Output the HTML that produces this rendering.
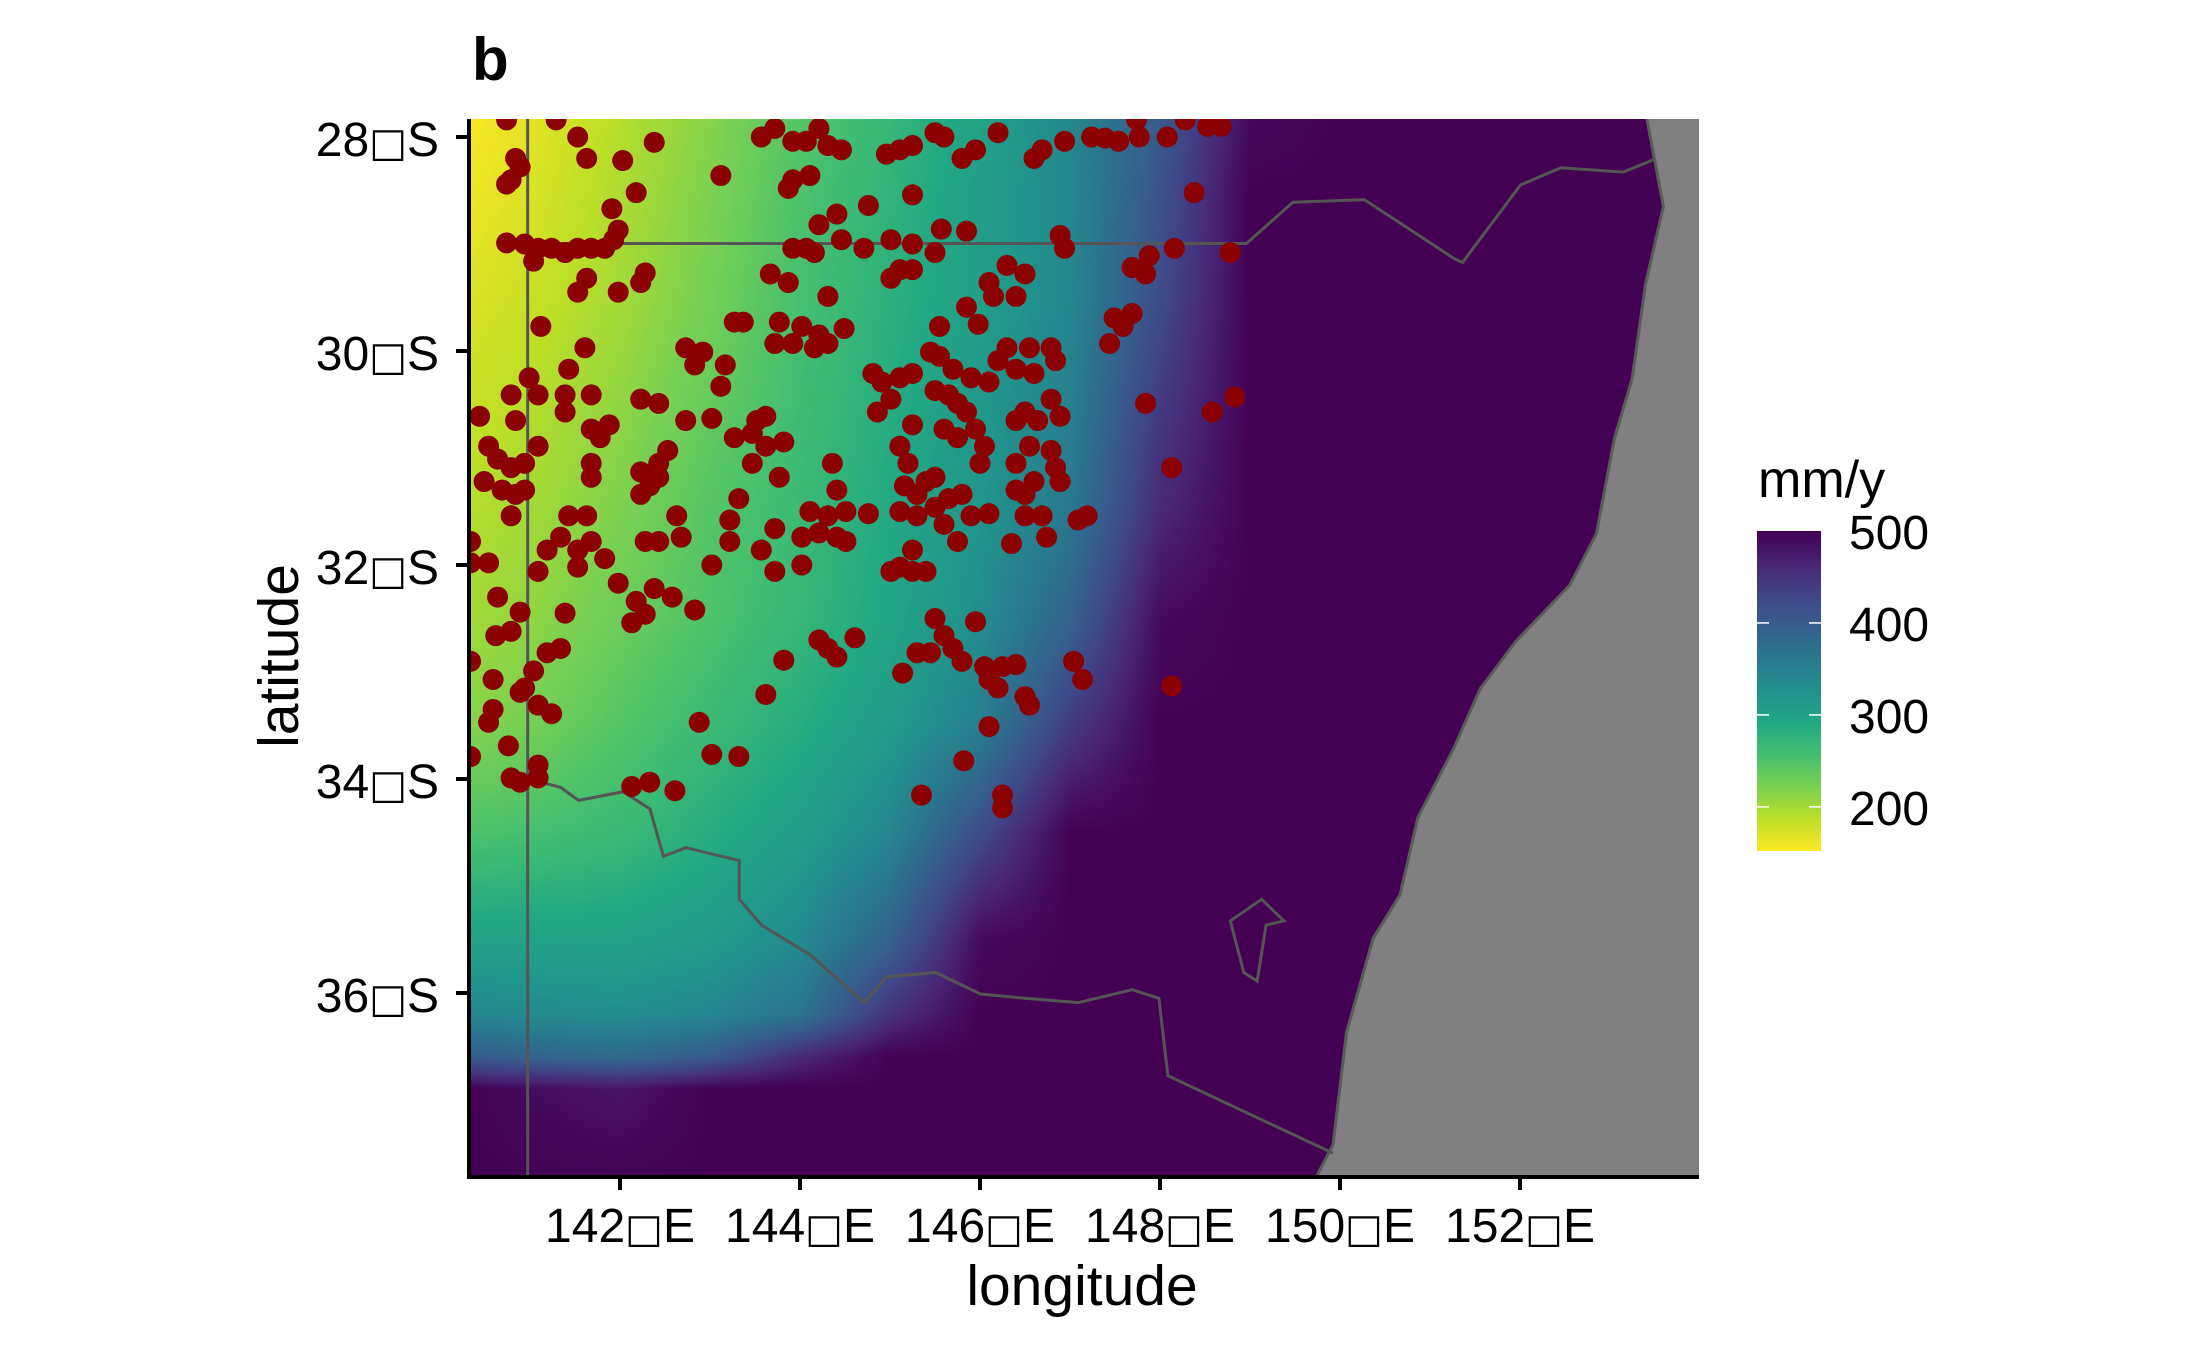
<!DOCTYPE html>
<html><head><meta charset="utf-8"><style>
html,body{margin:0;padding:0;background:#fff;}
#wrap{position:relative;width:2187px;height:1350px;}
#rasterCanvas{position:absolute;left:469px;top:119px;}
svg{position:absolute;left:0;top:0;display:block;font-family:"Liberation Sans",Arial,sans-serif;}
</style></head><body>
<div id="wrap">
<canvas id="rasterCanvas" width="1230" height="1058"></canvas>
<svg id="chart" width="2187" height="1350" viewBox="0 0 2187 1350" xmlns="http://www.w3.org/2000/svg">
<defs>
<clipPath id="panelClip"><rect x="469" y="119" width="1230" height="1058"/></clipPath>
<linearGradient id="legendGrad" x1="0" y1="1" x2="0" y2="0"></linearGradient>
</defs>
<text x="472" y="80" font-size="60" font-weight="bold">b</text>
<g clip-path="url(#panelClip)">
<g transform="translate(400,0) scale(0.89286,0.86059)">
<polygon fill="#808080" stroke="#5a5a5a" stroke-width="3" vector-effect="non-scaling-stroke" points="1395,130 1405,185 1415,240 1395,330 1380,440 1360,510 1340,620 1310,680 1250,745 1210,800 1180,870 1140,950 1120,1040 1090,1090 1060,1200 1045,1330 1020,1380 1470,1380 1470,130"/>
<path fill="none" stroke="#555" stroke-width="3" vector-effect="non-scaling-stroke" d="M143,130 V1380 M143,283 H948 L1000,235 L1080,232 L1180,300 L1190,305 L1255,215 L1300,195 L1370,200 L1405,185"/>
<path fill="none" stroke="#555" stroke-width="3" vector-effect="non-scaling-stroke" d="M143,905 L180,915 L200,930 L250,920 L280,940 L295,995 L320,985 L380,1000 L380,1045 L405,1075 L460,1110 L520,1165 L545,1135 L600,1130 L650,1155 L700,1160 L760,1165 L820,1150 L850,1160 L860,1250 L1045,1340"/>
<path fill="none" stroke="#555" stroke-width="3" vector-effect="non-scaling-stroke" d="M965,1045 L990,1070 L970,1075 L960,1140 L945,1130 L930,1070 Z"/>
</g>
<g id="points"></g>
</g>
<g id="axes">
<line x1="469" y1="119" x2="469" y2="1179" stroke="#000" stroke-width="4"/>
<line x1="467" y1="1177" x2="1699" y2="1177" stroke="#000" stroke-width="4"/>
</g>
<text x="1082" y="1305" font-size="57" text-anchor="middle">longitude</text>
<text transform="translate(298,656) rotate(-90)" font-size="57" text-anchor="middle">latitude</text>
<g id="legend">
<text x="1758" y="497" font-size="52">mm/y</text>
<rect x="1757" y="531" width="64" height="320" fill="url(#legendGrad)"/>
</g>
</svg>
</div>
<script>
const lonTicks=[142,144,146,148,150,152];
const latTicks=[28,30,32,34,36];
const legendTicks=[200,300,400,500];
const gridLon=[140.3,141,142,143,144,145,146,147,148,149,150,154];
const gridLat=[27.8,28.5,29.5,30.5,31.5,32.5,33.5,34.5,35.5,36.2,36.6,36.9,37.8];
const rainA=[155,165,190,215,245,270,300,340,400,490,500,500];
const rainB=[160,170,195,220,250,275,305,340,410,500,500,500];
const rainC=[170,180,200,225,255,280,305,340,420,500,500,500];
const rainD=[180,190,210,235,260,285,315,350,440,500,500,500];
const rainE=[190,200,220,245,265,290,320,360,460,500,500,500];
const rainF=[200,210,230,250,270,295,330,390,490,500,500,500];
const rainG=[215,225,245,265,285,310,350,440,500,500,500,500];
const rainH=[250,255,265,285,305,340,420,500,500,500,500,500];
const rainI=[300,300,300,310,335,390,490,500,500,500,500,500];
const rainJ=[340,335,330,340,365,450,500,500,500,500,500,500];
const rainK=[400,390,380,400,460,500,500,500,500,500,500,500];
const rainL=[500,490,480,500,500,500,500,500,500,500,500,500];
const rainM=[500,500,500,500,500,500,500,500,500,500,500,500];
const rainRows=[rainA,rainB,rainC,rainD,rainE,rainF,rainG,rainH,rainI,rainJ,rainK,rainL,rainM];
const sites=[
[140.74,27.84],[141.29,27.84],[141.53,28.00],[141.63,28.20],[142.03,28.22],[142.38,28.05],[140.84,28.20],[140.79,28.40],[140.89,28.28],[140.74,28.44],
[143.57,28.00],[143.72,27.92],[143.92,28.04],[144.07,28.04],[144.21,27.92],[144.31,28.08],[144.46,28.12],[144.96,28.16],[145.11,28.12],[145.25,28.08],
[145.50,27.96],[145.60,28.00],[145.80,28.20],[145.95,28.12],[146.20,27.96],[146.60,28.20],[146.69,28.12],[146.94,28.04],[147.24,28.00],[147.39,28.01],
[147.54,28.04],[147.77,28.00],[148.08,28.00],[148.28,27.84],[148.53,27.90],[148.68,27.90],[147.74,27.84],[143.12,28.36],[143.92,28.40],[144.11,28.36],
[143.87,28.48],[142.18,28.52],[141.91,28.67],[145.25,28.54],[144.76,28.64],[144.41,28.72],[144.21,28.82],[144.46,28.96],[144.07,29.04],[143.92,29.04],
[144.16,29.08],[144.71,29.04],[145.01,28.96],[145.25,29.00],[145.50,29.08],[145.57,28.86],[145.85,28.88],[146.89,28.92],[146.94,29.04],[148.38,28.52],
[148.78,29.08],[148.16,29.04],[147.88,29.11],[147.69,29.22],[147.84,29.28],
[140.74,28.99],[140.94,29.00],[141.09,29.04],[141.24,29.04],[141.39,29.08],[141.53,29.04],[141.68,29.04],[141.83,29.04],[141.93,28.96],[141.98,28.87],
[141.04,29.16],[141.63,29.32],[141.53,29.45],[141.98,29.45],[142.23,29.36],[142.28,29.27],[143.67,29.28],[143.87,29.36],[144.31,29.49],[145.01,29.32],
[145.11,29.24],[145.25,29.24],[146.10,29.36],[146.30,29.20],[146.50,29.28],[146.15,29.49],[146.40,29.49],
[143.27,29.73],[143.37,29.73],[143.77,29.73],[144.02,29.77],[144.21,29.85],[144.49,29.79],[143.72,29.93],[143.92,29.93],[144.16,29.97],[144.31,29.93],
[141.12,29.77],[141.61,29.97],[142.73,29.97],[142.92,30.01],[142.83,30.13],[143.17,30.13],[143.12,30.33],[147.49,29.69],[147.59,29.77],[147.69,29.65],
[147.44,29.93],[145.55,29.77],[145.85,29.59],[145.98,29.75],
[144.81,30.21],[144.91,30.29],[145.11,30.25],[145.25,30.21],[145.45,30.01],[145.55,30.05],[145.70,30.17],[145.90,30.25],[146.10,30.29],[146.20,30.09],
[146.30,29.97],[146.40,30.17],[146.55,29.97],[146.79,29.97],[146.84,30.09],[146.60,30.21],[145.50,30.37],[145.65,30.41],[145.75,30.49],[145.85,30.57],
[145.01,30.45],[144.86,30.57],[140.99,30.25],[140.79,30.41],[141.09,30.41],[141.39,30.41],[141.43,30.17],[141.68,30.41],[142.23,30.45],[142.43,30.49],
[147.84,30.49],[148.58,30.57],[148.83,30.43],
[140.44,30.61],[140.84,30.65],[140.54,30.89],[140.64,31.01],[140.79,31.09],[140.94,31.05],[141.09,30.89],[141.39,30.57],[141.68,30.73],[141.88,30.69],
[141.78,30.81],[141.68,31.05],[141.68,31.18],[142.23,31.13],[142.43,31.05],[142.53,30.93],[142.73,30.65],[143.02,30.63],[143.27,30.81],[143.47,30.77],
[143.52,30.65],[143.62,30.61],[143.62,30.89],[143.47,31.05],[143.82,30.85],[145.11,30.89],[145.25,30.69],[145.20,31.05],[145.60,30.73],[145.75,30.81],
[145.95,30.73],[146.05,30.89],[146.00,31.05],[146.40,30.65],[146.50,30.57],[146.64,30.65],[146.79,30.45],[146.89,30.61],[146.40,31.05],[146.55,30.89],
[146.79,30.93],[146.84,31.09],[146.89,31.22],[146.60,31.22],[148.13,31.09],
[140.49,31.22],[140.69,31.30],[140.84,31.34],[140.94,31.30],[140.79,31.54],[142.23,31.34],[142.33,31.26],[142.43,31.18],[143.32,31.38],[143.77,31.18],
[144.41,31.30],[144.36,31.05],[145.16,31.26],[145.30,31.34],[145.40,31.22],[145.50,31.18],[145.50,31.46],[145.65,31.38],[145.80,31.34],[145.90,31.54],
[146.10,31.52],[146.40,31.30],[146.50,31.34],[146.69,31.54],[147.09,31.58],[147.19,31.54],[144.11,31.50],[144.31,31.54],[144.51,31.50],[144.76,31.52],
[144.21,31.70],[144.41,31.74],[144.51,31.78],[145.11,31.50],[145.30,31.54],[145.60,31.62],[145.75,31.78],[146.50,31.54],[146.74,31.74],[141.43,31.54],
[141.34,31.74],[141.19,31.86],[141.53,31.86],[141.68,31.78],[141.83,31.94],[141.63,31.54],[142.63,31.54],[142.68,31.74],[142.43,31.78],[142.28,31.78],
[143.22,31.58],[143.22,31.78],[143.57,31.86],[143.72,31.66],[144.02,31.74],[145.25,31.86],[146.35,31.80],
[140.34,31.78],[140.34,31.98],[140.54,31.98],[141.09,32.06],[141.53,32.02],[141.98,32.17],[142.18,32.34],[142.38,32.22],[142.13,32.54],[142.28,32.46],
[142.58,32.30],[142.83,32.42],[143.02,32.00],[143.72,32.06],[144.02,32.00],[145.01,32.06],[145.11,32.02],[145.25,32.06],[145.40,32.06],[140.64,32.30],
[140.89,32.44],[141.39,32.45],
[140.62,32.66],[140.79,32.62],[141.19,32.82],[141.34,32.78],[141.04,32.99],[140.94,33.15],[140.59,33.07],[140.34,32.90],[140.89,33.19],[141.09,33.31],
[141.24,33.39],[140.59,33.35],[144.21,32.70],[144.31,32.78],[144.41,32.86],[144.61,32.68],[143.82,32.89],[145.50,32.50],[145.60,32.66],[145.70,32.78],
[145.45,32.82],[145.30,32.82],[145.80,32.90],[145.95,32.53],[146.05,32.95],[146.10,33.07],[146.20,33.15],[146.40,32.93],[146.25,32.95],[146.50,33.23],
[147.04,32.90],[147.14,33.07],[145.14,33.01],[143.62,33.21],[142.88,33.47],[148.13,33.13],[146.55,33.31],
[140.54,33.47],[140.76,33.69],[140.34,33.79],[140.79,33.99],[140.89,34.03],[141.09,33.87],[141.09,33.99],[142.13,34.07],[142.33,34.03],[142.61,34.11],
[143.02,33.77],[143.32,33.79],[145.82,33.83],[145.35,34.15],[146.25,34.15],[146.25,34.27],[146.10,33.51]
];
const NS="http://www.w3.org/2000/svg";
function xScale(lon){return 620+(lon-142)*90;}
function yScale(lat){return 137+(lat-28)*107;}
function lonAt(px){return 142+(px-620)/90;}
function latAt(py){return 28+(py-137)/107;}
const vmin=152,vmax=500;
const vir=["#440154","#482475","#414487","#355f8d","#2a788e","#21918c","#22a884","#44bf70","#7ad151","#bddf26","#fde725"];
function hex(h){return [1,3,5].map(i=>parseInt(h.substr(i,2),16));}
const virRGB=vir.map(hex);
function rgbOf(v){
  let t=(vmax-v)/(vmax-vmin); t=Math.max(0,Math.min(1,t));
  const p=t*10,i=Math.min(9,Math.floor(p)),f=p-i;
  const a=virRGB[i],b=virRGB[i+1];
  return a.map((c,k)=>Math.round(c+(b[k]-c)*f));
}
function color(v){return "rgb("+rgbOf(v).join(",")+")";}
function legendY(v){return 531+(500-v)/(500-vmin)*320;}
function locate(arr,v){
  if(v<=arr[0]) return [0,0];
  for(let i=0;i<arr.length-1;i++){ if(v<=arr[i+1]) return [i,(v-arr[i])/(arr[i+1]-arr[i])]; }
  return [arr.length-2,1];
}
// raster
(function(){
  const cv=document.getElementById("rasterCanvas");
  const ctx=cv.getContext("2d");
  const W=cv.width,H=cv.height;
  const img=ctx.createImageData(W,H);
  const colIdx=[];
  for(let x=0;x<W;x++) colIdx.push(locate(gridLon,lonAt(469+x+0.5)));
  for(let y=0;y<H;y++){
    const [ri,fy]=locate(gridLat,latAt(119+y+0.5));
    const r0=rainRows[ri],r1=rainRows[ri+1];
    for(let x=0;x<W;x++){
      const [ci,fx]=colIdx[x];
      const v0=r0[ci]+(r0[ci+1]-r0[ci])*fx;
      const v1=r1[ci]+(r1[ci+1]-r1[ci])*fx;
      const v=v0+(v1-v0)*fy;
      const c=rgbOf(v);
      const o=(y*W+x)*4;
      img.data[o]=c[0];img.data[o+1]=c[1];img.data[o+2]=c[2];img.data[o+3]=255;
    }
  }
  ctx.putImageData(img,0,0);
})();
// points
const pg=document.getElementById("points");
sites.forEach(s=>{
  const c=document.createElementNS(NS,"circle");
  c.setAttribute("cx",xScale(s[0]));c.setAttribute("cy",yScale(s[1]));c.setAttribute("r",10.5);
  c.setAttribute("fill","#8b0000");
  
  
  pg.appendChild(c);
});
// axes ticks
const axes=document.getElementById("axes");
function label(x,y,num,suffix,anchor,name){
  const t=document.createElementNS(NS,"text");
  t.setAttribute("x",x);t.setAttribute("y",y);t.setAttribute("font-size","48");t.setAttribute("text-anchor",anchor);
  t.appendChild(document.createTextNode(num));
  const b=document.createElementNS(NS,"tspan");
  b.setAttribute("font-family","DejaVu Sans, sans-serif");b.setAttribute("font-size","40");
  b.textContent="\u25A1";
  t.appendChild(b);
  t.appendChild(document.createTextNode(suffix));
  
  
  return t;
}
lonTicks.forEach(l=>{
  const x=xScale(l);
  const tk=document.createElementNS(NS,"line");
  tk.setAttribute("x1",x);tk.setAttribute("x2",x);tk.setAttribute("y1",1177);tk.setAttribute("y2",1190);
  tk.setAttribute("stroke","#000");tk.setAttribute("stroke-width","4");
  
  
  axes.appendChild(tk);
  axes.appendChild(label(x,1242,String(l),"E","middle","x-tick-label"));
});
latTicks.forEach(l=>{
  const y=yScale(l);
  const tk=document.createElementNS(NS,"line");
  tk.setAttribute("x1",456);tk.setAttribute("x2",469);tk.setAttribute("y1",y);tk.setAttribute("y2",y);
  tk.setAttribute("stroke","#000");tk.setAttribute("stroke-width","4");
  
  
  axes.appendChild(tk);
  axes.appendChild(label(439,y+19,String(l),"S","end","y-tick-label"));
});
// legend
const grad=document.getElementById("legendGrad");
for(let i=0;i<=20;i++){
  const v=vmin+(vmax-vmin)*i/20;
  const st=document.createElementNS(NS,"stop");
  st.setAttribute("offset",(i/20));st.setAttribute("stop-color",color(v));
  grad.appendChild(st);
}
const lg=document.getElementById("legend");
legendTicks.forEach(v=>{
  const y=legendY(v);
  if(v<500){
    [[1757,1769],[1809,1821]].forEach(p=>{
      const ln=document.createElementNS(NS,"line");
      ln.setAttribute("x1",p[0]);ln.setAttribute("x2",p[1]);ln.setAttribute("y1",y);ln.setAttribute("y2",y);
      ln.setAttribute("stroke","#fff");ln.setAttribute("stroke-width","1.5");
      
      
      lg.appendChild(ln);
    });
  }
  const t=document.createElementNS(NS,"text");
  t.setAttribute("x",1849);t.setAttribute("y",y+18);t.setAttribute("font-size","48");
  t.textContent=String(v);
  
  
  lg.appendChild(t);
});
</script>
</body></html>
